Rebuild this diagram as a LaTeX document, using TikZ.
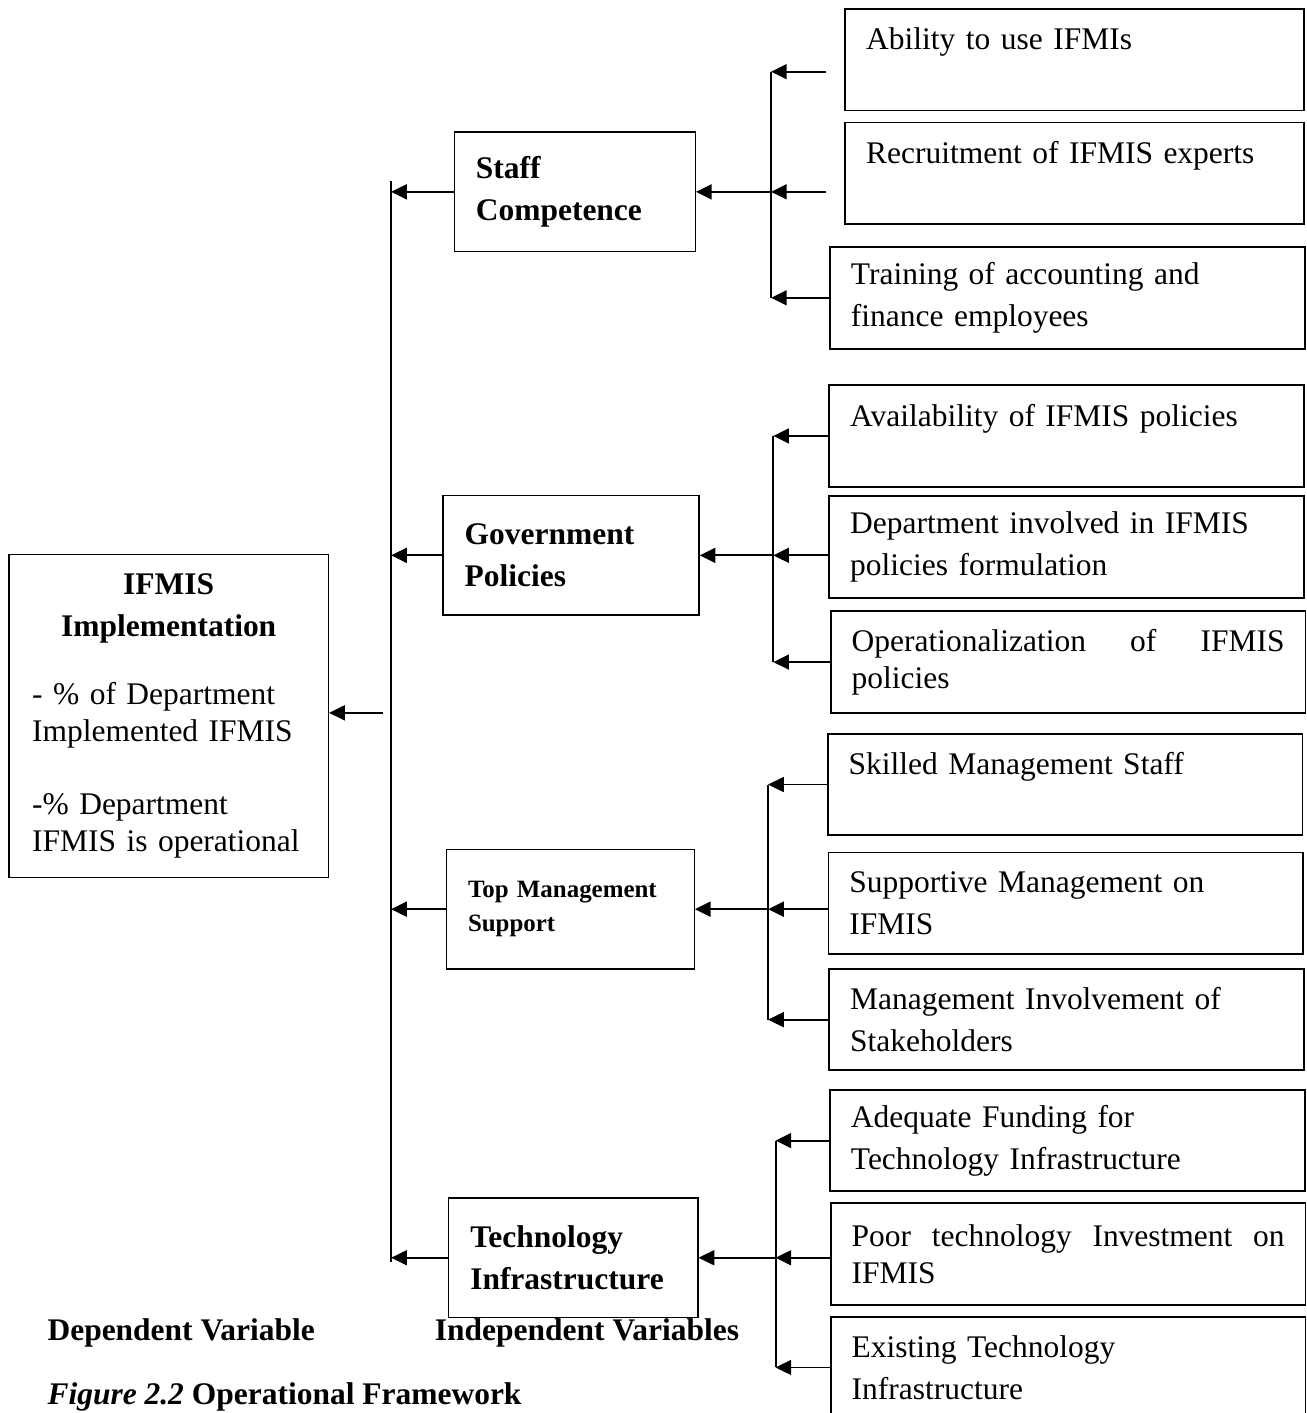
\documentclass[tikz,border=0pt]{standalone}
\usepackage{fontspec}
\setmainfont{Liberation Serif}
\usetikzlibrary{arrows.meta, positioning}

\begin{document}
\begin{tikzpicture}[
    dvbox/.style={rectangle, draw, line width=0.5pt, minimum width=4.28cm, minimum height=4.33cm, text width=3.66cm, inner xsep=0.31cm, align=left, font=\fontsize{12}{14}\selectfont},
    factor/.style={rectangle, draw, line width=0.5pt, minimum height=1.6cm, inner xsep=0.29cm, align=left, font=\bfseries\fontsize{12}{16}\selectfont},
    indicator/.style={rectangle, draw, line width=0.7pt, minimum height=1.36cm, text width=5.8cm, inner xsep=0.28cm, align=left, font=\fontsize{12}{16}\selectfont},
    arrow/.style={-{Triangle[length=2.1mm, width=2mm]}, line width=0.75pt},
    bus/.style={line width=0.75pt},
    caption/.style={inner sep=0pt, anchor=west, font=\bfseries\fontsize{12}{14}\selectfont}
]
\useasboundingbox (0,0) rectangle (17.5,-18.93);

% Dependent variable
\node[dvbox] (dv) at (2.26,-9.59) {{\centering\bfseries\fontsize{12}{16}\selectfont IFMIS\\Implementation\par}\vspace{12pt}- \% of Department\\Implemented IFMIS\\[13.7pt]-\% Department\\IFMIS is operational};

% Independent variables
\node[factor, text width=2.65cm] (staff) at (7.70,-2.57) {Staff\\Competence};
\node[factor, text width=2.85cm] (gov) at (7.65,-7.44) {Government\\Policies};
\node[factor, text width=2.74cm, font=\bfseries\fontsize{9.5}{12.9}\selectfont] (topm) at (7.64,-12.18) {Top Management\\Support};
\node[factor, text width=2.76cm] (tech) at (7.68,-16.85) {Technology\\Infrastructure};

% Indicators - staff competence
\node[indicator, text width=5.59cm] (ability) at (14.40,-0.80) {Ability to use IFMIs\\\mbox{}};
\node[indicator, text width=5.59cm] (recruit) at (14.40,-2.32) {Recruitment of IFMIS experts\\\mbox{}};
\node[indicator] (training) at (14.30,-3.99) {Training of accounting and\\finance employees};

% Indicators - government policies
\node[indicator] (avail) at (14.29,-5.84) {Availability of IFMIS policies\\\mbox{}};
\node[indicator] (dept) at (14.29,-7.33) {Department involved in IFMIS\\policies formulation};
\node[indicator, font=\fontsize{12}{14}\selectfont] (oper) at (14.31,-8.87) {\makebox[5.8cm][s]{Operationalization\hfill of\hfill IFMIS}\\policies};

% Indicators - top management support
\node[indicator] (skilled) at (14.27,-10.51) {Skilled Management Staff\\\mbox{}};
\node[indicator] (support) at (14.28,-12.10) {Supportive Management on\\IFMIS};
\node[indicator] (involve) at (14.29,-13.66) {Management Involvement of\\Stakeholders};

% Indicators - technology infrastructure
\node[indicator] (funding) at (14.30,-15.28) {Adequate Funding for\\Technology Infrastructure};
\node[indicator, font=\fontsize{12}{14}\selectfont] (poor) at (14.31,-16.80) {\makebox[5.8cm][s]{Poor\hfill technology\hfill Investment\hfill on}\\IFMIS};
\node[indicator] (existing) at (14.31,-18.32) {Existing Technology\\Infrastructure};

% Main bus to dependent variable
\coordinate (mbtop) at (5.24,-2.43);
\coordinate (mbbot) at (5.24,-16.91);
\coordinate (dvtail) at (5.13,-9.55);
\draw[bus] (mbtop) -- (mbbot);
\draw[arrow] (dvtail) -- (dvtail -| dv.east);
\foreach \f in {staff,gov,topm,tech}
    \draw[arrow] (\f.west) -- (\f.west -| mbtop);

% Staff competence bus
\coordinate (sbus) at (10.33,0);
\coordinate (abil) at (11.07,-0.96);
\coordinate (recr) at (11.07,-2.57);
\draw[bus] (abil -| sbus) -- (training.west -| sbus);
\draw[arrow] (abil) -- (abil -| sbus);
\draw[arrow] (recr) -- (recr -| sbus);
\draw[arrow] (training.west) -- (training.west -| sbus);
\draw[arrow] (recr -| sbus) -- (staff.east);

% Government policies bus
\coordinate (gbus) at (10.36,0);
\draw[bus] (avail.west -| gbus) -- (oper.west -| gbus);
\draw[arrow] (avail.west) -- (avail.west -| gbus);
\draw[arrow] (dept.west |- gov.east) -- (gov.east -| gbus);
\draw[arrow] (oper.west) -- (oper.west -| gbus);
\draw[arrow] (gov.east -| gbus) -- (gov.east);

% Top management bus
\coordinate (tbus) at (10.29,0);
\draw[bus] (skilled.west -| tbus) -- (involve.west -| tbus);
\draw[arrow] (skilled.west) -- (skilled.west -| tbus);
\draw[arrow] (support.west |- topm.east) -- (topm.east -| tbus);
\draw[arrow] (involve.west) -- (involve.west -| tbus);
\draw[arrow] (topm.east -| tbus) -- (topm.east);

% Technology bus
\coordinate (ibus) at (10.39,0);
\draw[bus] (funding.west -| ibus) -- (existing.west -| ibus);
\draw[arrow] (funding.west) -- (funding.west -| ibus);
\draw[arrow] (poor.west |- tech.east) -- (tech.east -| ibus);
\draw[arrow] (existing.west) -- (existing.west -| ibus);
\draw[arrow] (tech.east -| ibus) -- (tech.east);

% Labels
\node[caption] (dvlabel) at (0.63,-17.86) {Dependent Variable};
\node[caption] (ivlabel) at (5.82,-17.86) {Independent Variables};
\node[caption, anchor=base west] (figcap) at (0.63,-18.82) {\textit{Figure 2.2} Operational Framework};

\end{tikzpicture}
\end{document}
